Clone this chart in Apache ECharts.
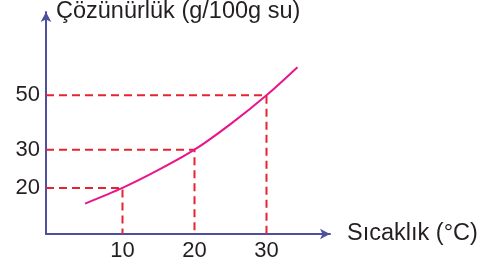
<!DOCTYPE html>
<html>
<head>
<meta charset="utf-8">
<script src="https://cdn.jsdelivr.net/npm/echarts@6/dist/echarts.min.js"></script>
<style>html,body{margin:0;padding:0;background:#fff;}#c{width:493px;height:268px;}</style>
</head>
<body>
<div id="c"></div>
<script>
// ---- data ----
const tempTicks = [10, 20, 30];
const solTicks = [20, 30, 50];
const curveTemp = [4.8, 10, 15, 20, 25, 30, 34.3];
const curveSol = [13.2, 20, 24.7, 30, 39.4, 50, 60.3];
const markedTemp = [10, 20, 30];
const markedSol = [20, 30, 50];
const yTitle = 'Çözünürlük (g/100g su)';
const xTitle = 'Sıcaklık (°C)';

// ---- schematic (non-linear) solubility scale of the drawing ----
const scaleVal = [0, 20, 30, 50];
const scalePos = [0, 20, 36.56, 60.2];
function warp(v) {
  let i = 1;
  while (i < scaleVal.length - 1 && v > scaleVal[i]) i++;
  const v0 = scaleVal[i - 1], v1 = scaleVal[i], p0 = scalePos[i - 1], p1 = scalePos[i];
  return p0 + (v - v0) * (p1 - p0) / (v1 - v0);
}
const xMin = -0.625, xMax = 38.82, yMax = 96.3;

const axisColor = '#4f4f9f';
const textColor = '#231f20';
const guideColor = '#e42530';
const curveColor = '#e8168a';
const font = 'Liberation Sans, Arial, sans-serif';

const guideSeries = markedTemp.map((t, i) => ({
  type: 'line',
  data: [[xMin, warp(markedSol[i])], [t, warp(markedSol[i])], [t, 0]],
  symbol: 'none',
  silent: true,
  lineStyle: { color: guideColor, width: 2, type: [8, 5] },
  z: 2
}));

const chart = echarts.init(document.getElementById('c'), null, { renderer: 'canvas' });
chart.setOption({
  animation: false,
  backgroundColor: '#fff',
  grid: { left: 46, right: 163, top: 10, bottom: 34, containLabel: false },
  xAxis: {
    type: 'value', min: xMin, max: xMax,
    name: xTitle, nameLocation: 'end', nameGap: 17,
    nameTextStyle: { color: textColor, fontSize: 23.5, fontFamily: font, verticalAlign: 'middle', align: 'left' },
    axisLine: { show: true, onZero: false, symbol: ['none', 'arrow'], symbolSize: [8, 10], lineStyle: { color: axisColor, width: 2 } },
    axisTick: { show: false },
    splitLine: { show: false },
    axisLabel: { customValues: tempTicks, margin: 6, color: textColor, fontSize: 22, fontFamily: font, formatter: v => String(Math.round(v)) }
  },
  yAxis: {
    type: 'value', min: 0, max: yMax,
    name: yTitle, nameLocation: 'end', nameGap: 0,
    nameTextStyle: { color: textColor, fontSize: 23.5, fontFamily: font, align: 'left', verticalAlign: 'middle', padding: [0, 0, 0, 10] },
    axisLine: { show: true, onZero: false, symbol: ['none', 'arrow'], symbolSize: [8, 10], lineStyle: { color: axisColor, width: 2 } },
    axisTick: { show: false },
    splitLine: { show: false },
    axisLabel: {
      customValues: solTicks.map(warp), margin: 6, color: textColor, fontSize: 22, fontFamily: font,
      formatter: v => { let best = solTicks[0]; solTicks.forEach(s => { if (Math.abs(warp(s) - v) < Math.abs(warp(best) - v)) best = s; }); return String(best); }
    }
  },
  series: guideSeries.concat([{
    type: 'line',
    data: curveTemp.map((t, i) => [t, warp(curveSol[i])]),
    smooth: 0.3,
    symbol: 'none',
    silent: true,
    lineStyle: { color: curveColor, width: 2 },
    z: 3
  }])
});
</script>
</body>
</html>
